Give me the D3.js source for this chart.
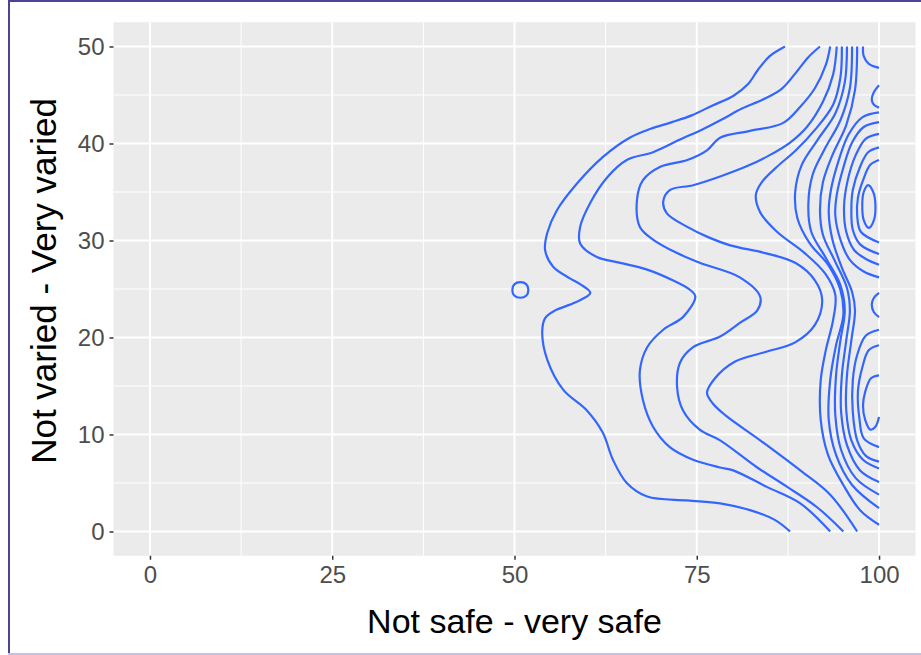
<!DOCTYPE html>
<html>
<head>
<meta charset="utf-8">
<script src="https://cdn.jsdelivr.net/npm/d3@7"></script>
<style>
  body { margin: 0; background: #fff; }
  #graf { width: 921px; height: 655px; }
  .eje text { font-family: 'Liberation Sans', Arial, sans-serif; fill: #4d4d4d; }
  .titulo-eje { font-family: 'Liberation Sans', Arial, sans-serif; fill: #000; }
</style>
</head>
<body>
<div id="graf"></div>
<script>
// I. Datos
xTicks = [0, 25, 50, 75, 100]
yTicks = [0, 10, 20, 30, 40, 50]
xMinor = [12.5, 37.5, 62.5, 87.5]
yMinor = [5, 15, 25, 35, 45]

// curvas de nivel abiertas (cortadas por el borde), [seguro, variado]
nivel1 = [[87.1,50],[85.0,49.0],[83.4,47.6],[82.0,46.1],[80.0,44.9],[77.1,43.9],[74.3,42.9],[71.6,42.2],[68.6,41.5],[65.8,40.6],[62.1,38.6],[58.6,35.9],[55.8,33.1],[54.5,30.8],[54.2,29.0],[55.3,27.3],[57.6,26.1],[59.0,25.5],[60.4,24.6],[58.3,23.6],[55.6,22.8],[54.2,22.0],[53.8,20.5],[54.5,17.7],[56.7,14.6],[59.9,12.5],[62.1,10.2],[63.5,7.4],[65.4,5.0],[68.2,3.6],[73.7,3.2],[78.2,2.9],[82.3,2.2],[85.7,1.2],[87.8,0]]
nivel2 = [[91.9,50],[90.3,48.9],[88.5,47.2],[86.6,45.6],[84.0,44.5],[81.2,43.6],[78.5,42.5],[75.9,41.5],[72.7,40.4],[69.0,39.1],[65.4,38.3],[62.7,36.5],[60.4,33.9],[59.0,31.4],[59.0,29.7],[61.3,28.3],[64.5,27.7],[68.2,27.0],[71.7,25.9],[74.1,24.9],[74.8,24.2],[73.1,22.1],[70.4,20.8],[68.2,19.0],[67.2,16.6],[67.6,13.6],[69.0,10.8],[71.3,8.7],[74.5,7.4],[78.2,6.6],[80.0,6.3],[84.6,4.6],[89.2,2.9],[93.3,0]]
nivel3 = [[93.3,50],[92.7,48.1],[91.2,45.7],[89.2,43.8],[86.8,42.1],[82.3,41.3],[78.2,40.6],[76.4,39.3],[73.7,38.3],[70.0,37.6],[67.6,36.2],[66.8,34.2],[67.2,31.4],[69.0,30.1],[72.3,28.7],[75.4,27.7],[80.9,26.2],[83.7,24.2],[83.3,22.8],[80.9,21.5],[78.2,20.1],[74.5,19.0],[72.7,17.4],[72.3,14.9],[73.1,12.5],[75.4,10.5],[78.2,9.4],[83.3,6.6],[87.4,4.6],[91.5,2.5],[95.1,0]]
nivel4 = [[94.2,50],[93.7,47.1],[92.3,44.3],[90.1,41.7],[87.8,40.1],[85.0,38.8],[82.0,37.7],[78.2,36.6],[74.5,35.7],[71.3,35.2],[70.4,34.0],[70.9,32.8],[73.7,31.4],[76.4,30.4],[79.6,29.5],[84.4,28.7],[88.5,27.7],[91.2,25.9],[92.2,23.9],[91.2,21.3],[88.5,19.5],[84.4,18.5],[80.2,17.5],[77.5,15.8],[76.4,14.3],[77.2,13.2],[78.9,12.0],[83.7,9.4],[89.2,6.3],[93.3,3.8],[97.0,0]]
nivel5 = [[94.9,50],[94.7,46.8],[93.7,44.0],[91.2,41.4],[88.6,39.3],[86.0,37.6],[83.9,36.0],[83.1,34.7],[83.7,32.9],[86.0,30.9],[89.8,28.7],[92.6,26.6],[94.0,24.4],[93.7,21.8],[92.7,18.7],[92.0,15.6],[92.0,11.5],[93.0,7.9],[95.1,4.8],[97.4,2.2],[100,0.7]]
nivel6 = [[95.6,50],[95.3,46.3],[94.0,43.1],[91.6,40.4],[89.4,37.8],[88.5,35.0],[88.8,32.3],[90.5,29.7],[93.0,27.5],[94.7,24.9],[95.1,22.3],[94.1,19.2],[93.3,15.6],[93.1,11.5],[94.1,7.9],[96.3,4.8],[100,2.4]]
nivel7 = [[96.3,50],[96.0,45.7],[94.7,42.4],[92.6,39.5],[90.9,36.8],[90.3,33.7],[90.7,30.9],[92.7,28.2],[94.7,25.4],[95.3,22.8],[94.7,19.7],[94.1,16.1],[94.0,12.0],[94.8,8.4],[96.8,5.5],[100,3.8]]
nivel8 = [[97.0,50],[96.7,45.5],[95.5,41.9],[93.6,38.8],[92.3,36.0],[91.9,33.1],[92.3,30.6],[94.0,27.8],[95.6,25.1],[96.0,22.8],[95.5,19.7],[94.9,16.1],[94.8,12.3],[95.6,8.9],[97.4,6.3],[100,5.1]]
nivel9 = [[100,43.2],[97.7,42.7],[95.8,40.9],[94.4,38.1],[93.4,35.2],[93.1,32.9],[93.6,30.1],[94.9,27.2],[96.3,24.7],[96.7,22.8],[96.2,19.7],[95.6,16.1],[95.5,12.5],[96.2,9.4],[97.8,7.4],[100,6.5]]
// alrededor del máximo superior
arriba10 = [[100,42.2],[97.9,41.7],[96.3,40.1],[95.1,37.5],[94.2,34.7],[94.0,32.6],[94.7,30.1],[96.0,28.0],[97.9,26.8],[100,26.2]]
arriba11 = [[100,41.0],[98.2,40.5],[96.8,38.8],[95.7,36.2],[95.2,33.5],[95.5,30.9],[96.6,29.0],[98.2,28.1],[100,27.5]]
arriba12 = [[100,39.6],[98.5,39.1],[97.4,37.6],[96.4,35.2],[96.2,33.1],[96.4,31.1],[97.4,29.6],[100,28.6]]
arriba13 = [[100,38.3],[98.8,37.8],[97.8,36.2],[97.1,34.4],[97.0,32.6],[97.5,30.9],[100,29.8]]
// alrededor del máximo inferior
abajo10 = [[100,20.8],[98.2,20.2],[97.0,18.2],[96.4,15.6],[96.4,12.3],[97.0,9.4],[98.2,7.8],[100,7.2]]
abajo11 = [[100,19.2],[98.6,18.7],[97.7,16.9],[97.1,14.4],[97.3,11.7],[97.9,9.6],[100,8.7]]
abajo12 = [[100,16.1],[98.9,15.8],[98.1,14.4],[97.8,13.0],[98.1,11.5],[98.8,10.5],[99.5,10.8],[100,11.8]]
// arcos pegados al borde derecho
esquina = [[97.8,50],[97.9,49.0],[98.6,48.2],[100,47.8]]
arcoAlto = [[100,46.0],[99.3,45.3],[99.0,44.5],[99.3,44.0],[100,43.7]]
arcoSilla = [[100,24.6],[99.3,24.1],[99.0,23.4],[99.3,22.6],[100,22.1]]
// curvas cerradas
circulo = [[50.8,25.7],[51.6,25.5],[51.9,24.9],[51.6,24.3],[50.8,24.1],[50.0,24.3],[49.7,24.9],[50.0,25.5]]
ovalo = [[98.5,35.7],[99.2,35.0],[99.5,33.7],[99.3,32.1],[98.6,31.3],[97.9,32.1],[97.7,33.7],[97.9,35.0]]

contornos = [nivel1, nivel2, nivel3, nivel4, nivel5, nivel6, nivel7, nivel8, nivel9,
             arriba10, arriba11, arriba12, arriba13, abajo10, abajo11, abajo12,
             esquina, arcoAlto, arcoSilla]
cerrados = [circulo, ovalo]

// II. Configuración
graf = d3.select('#graf')
ancho_total = 921
alto_total = 655

svg = graf.append('svg')
          .attr('width', ancho_total)
          .attr('height', alto_total)

x = d3.scaleLinear().domain([-5, 105]).range([113.5, 915.5])
y = d3.scaleLinear().domain([-2.5, 52.5]).range([555.75, 22.25])

// marco de la captura
svg.append('line').attr('x1', 9).attr('x2', 9).attr('y1', 0).attr('y2', 655)
   .attr('stroke', '#4b4394').attr('stroke-width', 2)
svg.append('line').attr('x1', 8).attr('x2', 921).attr('y1', 1).attr('y2', 1)
   .attr('stroke', '#4b4394').attr('stroke-width', 2)
svg.append('line').attr('x1', 8).attr('x2', 921).attr('y1', 654).attr('y2', 654)
   .attr('stroke', '#c4c0e6').attr('stroke-width', 2)

// panel
svg.append('rect')
   .attr('x', x(-5)).attr('y', y(52.5))
   .attr('width', x(105) - x(-5)).attr('height', y(-2.5) - y(52.5))
   .attr('fill', '#ebebeb')

g = svg.append('g')

// rejilla menor y mayor
g.selectAll('.vmenor').data(xMinor).enter().append('line')
  .attr('x1', d => x(d)).attr('x2', d => x(d))
  .attr('y1', y(52.5)).attr('y2', y(-2.5))
  .attr('stroke', '#fff').attr('stroke-width', 1)
g.selectAll('.hmenor').data(yMinor).enter().append('line')
  .attr('y1', d => y(d)).attr('y2', d => y(d))
  .attr('x1', x(-5)).attr('x2', x(105))
  .attr('stroke', '#fff').attr('stroke-width', 1)
g.selectAll('.vmayor').data(xTicks).enter().append('line')
  .attr('x1', d => x(d)).attr('x2', d => x(d))
  .attr('y1', y(52.5)).attr('y2', y(-2.5))
  .attr('stroke', '#fff').attr('stroke-width', 2)
g.selectAll('.hmayor').data(yTicks).enter().append('line')
  .attr('y1', d => y(d)).attr('y2', d => y(d))
  .attr('x1', x(-5)).attr('x2', x(105))
  .attr('stroke', '#fff').attr('stroke-width', 2)

// contornos (recortados en el rango de los datos)
svg.append('clipPath').attr('id', 'recorte')
   .append('rect')
   .attr('x', x(-5)).attr('y', y(50) - 1)
   .attr('width', x(100) - x(-5) + 1).attr('height', y(0) - y(50) + 2)

linea = d3.line()
          .x(d => x(d[0]))
          .y(d => y(d[1]))
          .curve(d3.curveCatmullRom.alpha(0.5))
lineaCerrada = d3.line()
          .x(d => x(d[0]))
          .y(d => y(d[1]))
          .curve(d3.curveCatmullRomClosed.alpha(0.5))

capa = svg.append('g').attr('clip-path', 'url(#recorte)')
capa.selectAll('.abierto').data(contornos).enter().append('path')
    .attr('d', linea)
    .attr('fill', 'none').attr('stroke', '#3366ff').attr('stroke-width', 2.2)
capa.selectAll('.cerrado').data(cerrados).enter().append('path')
    .attr('d', lineaCerrada)
    .attr('fill', 'none').attr('stroke', '#3366ff').attr('stroke-width', 2.2)

// ejes
xAxisGroup = svg.append('g')
   .attr('class', 'eje')
   .attr('transform', `translate(0, ${ y(-2.5) })`)
   .call(d3.axisBottom(x).tickValues(xTicks).tickSize(4).tickPadding(6))
yAxisGroup = svg.append('g')
   .attr('class', 'eje')
   .attr('transform', `translate(${ x(-5) }, 0)`)
   .call(d3.axisLeft(y).tickValues(yTicks).tickSize(4).tickPadding(5))
svg.selectAll('.eje .domain').remove()
svg.selectAll('.eje line').attr('stroke', '#333').attr('stroke-width', 1.5)
svg.selectAll('.eje text').style('font-size', '24px')

// títulos
svg.append('text')
   .attr('class', 'titulo-eje')
   .attr('x', x(50)).attr('y', 633)
   .attr('text-anchor', 'middle')
   .style('font-size', '34px')
   .text('Not safe - very safe')
svg.append('text')
   .attr('class', 'titulo-eje')
   .attr('transform', `translate(56, 281) rotate(-90)`)
   .attr('text-anchor', 'middle')
   .style('font-size', '35px')
   .text('Not varied - Very varied')
</script>
</body>
</html>
